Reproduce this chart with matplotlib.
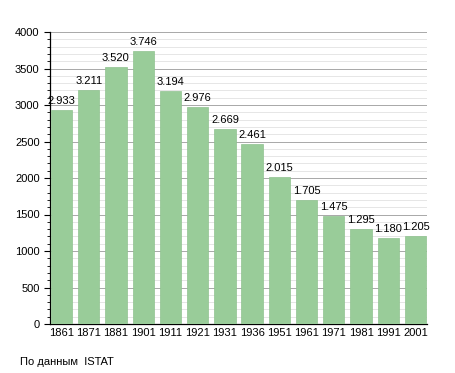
import matplotlib
matplotlib.use("Agg")
import matplotlib.pyplot as plt
from matplotlib.ticker import MultipleLocator

years = ["1861", "1871", "1881", "1901", "1911", "1921", "1931", "1936", "1951", "1961", "1971", "1981", "1991", "2001"]
population = [2933, 3211, 3520, 3746, 3194, 2976, 2669, 2461, 2015, 1705, 1475, 1295, 1180, 1205]
labels = ["2.933", "3.211", "3.520", "3.746", "3.194", "2.976", "2.669", "2.461", "2.015", "1.705", "1.475", "1.295", "1.180", "1.205"]

plt.rcParams['font.family'] = ['Liberation Sans', 'DejaVu Sans']

fig = plt.figure(figsize=(4.55, 3.73), dpi=100)
ax = fig.add_axes([50/455, 1-324/373, 377/455, 292/373])

x = list(range(len(years)))
ax.bar(x, population, width=0.78, color='#99CC99', edgecolor='#8FC28F', linewidth=0.5, zorder=3)
for xi, v, lab in zip(x, population, labels):
    ax.text(xi, v + 55, lab, ha='center', va='bottom', fontsize=8, zorder=4)

ax.set_xlim(-0.42, 13.42)
ax.set_ylim(0, 4000)
ax.set_xticks(x)
ax.set_xticklabels(years, fontsize=8)
ax.yaxis.set_major_locator(MultipleLocator(500))
ax.yaxis.set_minor_locator(MultipleLocator(100))
ax.tick_params(axis='y', labelsize=8, length=4, width=0.8)
ax.tick_params(axis='y', which='minor', length=2, width=0.6)
ax.tick_params(axis='x', length=0, pad=3)
ax.grid(axis='y', which='minor', color='#E2E2E2', linewidth=0.6, zorder=0)
ax.grid(axis='y', which='major', color='#A8A8A8', linewidth=0.7, zorder=1)
for s in ['top', 'right']:
    ax.spines[s].set_visible(False)
ax.spines['left'].set_linewidth(0.9)
ax.spines['bottom'].set_linewidth(0.9)

fig.text(20/455, 1-362/373, "По данным  ISTAT", fontsize=8, va='center', ha='left')

fig.savefig("out.png", dpi=100)
